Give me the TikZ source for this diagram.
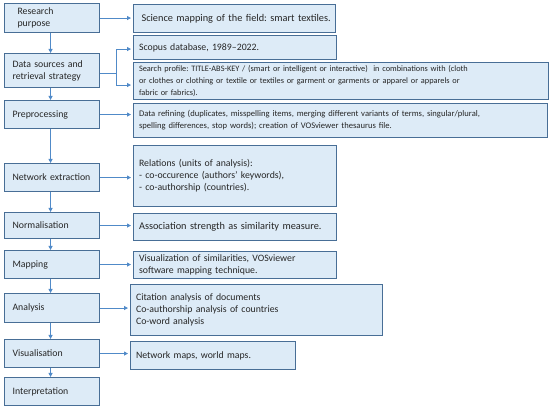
\documentclass[tikz,border=0pt]{standalone}
\usepackage{fontspec}
\setmainfont{Carlito}
\usetikzlibrary{arrows.meta}
\definecolor{boxfill}{RGB}{221,235,247}
\definecolor{boxdraw}{RGB}{72,110,150}
\definecolor{arrcol}{RGB}{80,138,200}
\begin{document}
\begin{tikzpicture}[x=1pt,y=-1pt,
  base/.style={draw=boxdraw, fill=boxfill, line width=1.1pt, rectangle, anchor=north west,
    align=left, inner ysep=1pt, font=\frenchspacing\fontsize{9.8}{12}\selectfont, text=black!85},
  small/.style={font=\frenchspacing\fontsize{#1}{12}\selectfont},
  lbox/.style={base, inner xsep=8pt, text width=79pt, minimum height=#1},
  rbox/.style 2 args={base, inner xsep=5.5pt, text width=#1, minimum height=#2},
  arr/.style={draw=arrcol, line width=0.8pt, -{Triangle[length=4pt,width=4pt]}, shorten >=2pt},
  varr/.style={draw=arrcol, line width=0.8pt, -{Triangle[length=4pt,width=4pt]}}
]
\useasboundingbox (0,0) rectangle (550,409);

% left column
\node[lbox=29pt, inner xsep=13pt, text width=69pt] (RP) at (4,3) {Research\\purpose};
\node[lbox=34pt] (DS) at (4,53) {Data sources and\\retrieval strategy};
\node[lbox=28pt] (PP) at (4,100) {Preprocessing};
\node[lbox=28pt] (NE) at (4,163) {Network extraction};
\node[lbox=26pt] (NO) at (4,212) {Normalisation};
\node[lbox=28pt] (MA) at (4,250) {Mapping};
\node[lbox=29pt] (AN) at (4,293) {Analysis};
\node[lbox=28pt] (VI) at (4,339) {Visualisation};
\node[lbox=28pt] (IN) at (4,377) {Interpretation};

% right column
\node[rbox={191pt}{28pt}, inner xsep=8pt, text width=186pt, small=10.3] (SM) at (133,4) {\mbox{Science mapping of the field: smart textiles.}};
\node[rbox={192pt}{24pt}] (SC) at (133,35) {Scopus database, 1989--2022.};
\node[rbox={404pt}{37pt}, small=8.3] (SP) at (133,62) {Search profile: TITLE-ABS-KEY / (smart or intelligent or interactive)\ \ in combinations with (cloth\\or clothes or clothing or textile or textiles or garment or garments or apparel or apparels or\\fabric or fabrics).};
\node[rbox={403pt}{34pt}, small=8.6] (DR) at (133,103) {Data refining (duplicates, misspelling items, merging different variants of terms, singular/plural,\\spelling differences, stop words); creation of VOSviewer thesaurus file.};
\node[rbox={192pt}{61pt}] (RE) at (133,145) {Relations (units of analysis):\\- co-occurence (authors’ keywords),\\- co-authorship (countries).\\[3pt]};
\node[rbox={192pt}{27pt}, small=10.3] (AS) at (133,213) {\mbox{Association strength as similarity measure.}};
\node[rbox={192pt}{27pt}] (VS) at (133,251) {Visualization of similarities, VOSviewer\\software mapping technique.};
\node[rbox={241pt}{51pt}] (CA) at (130,284) {Citation analysis of documents\\Co-authorship analysis of countries\\Co-word analysis};
\node[rbox={154pt}{28pt}] (NM) at (130,341) {Network maps, world maps.};

% vertical arrows
\foreach \a/\b in {RP/DS, DS/PP, PP/NE, NE/NO, NO/MA, MA/AN, AN/VI, VI/IN}
  \draw[varr] ([xshift=-1.5pt]\a.south) -- ([xshift=-1.5pt]\b.north);

% horizontal arrows
\draw[arr] (RP.east) -- (RP.east -| SM.west);
\draw[arr] (PP.east) -- (PP.east -| DR.west);
\draw[arr] (NE.east) -- (NE.east -| RE.west);
\draw[arr] (NO.east) -- (NO.east -| AS.west);
\draw[arr] (MA.east) -- (MA.east -| VS.west);
\draw[arr] (AN.east) -- (AN.east -| CA.west);
\draw[arr] (VI.east) -- (VI.east -| NM.west);

% branch
\coordinate (br) at ([yshift=-3pt,xshift=16pt]DS.east);
\draw[draw=arrcol, line width=0.8pt] ([yshift=-3pt]DS.east) -- (br);
\draw[arr] (br) |- ([yshift=-1.5pt]SC.west);
\draw[arr] (br) |- ([yshift=-4pt]SP.west);
\end{tikzpicture}
\end{document}
